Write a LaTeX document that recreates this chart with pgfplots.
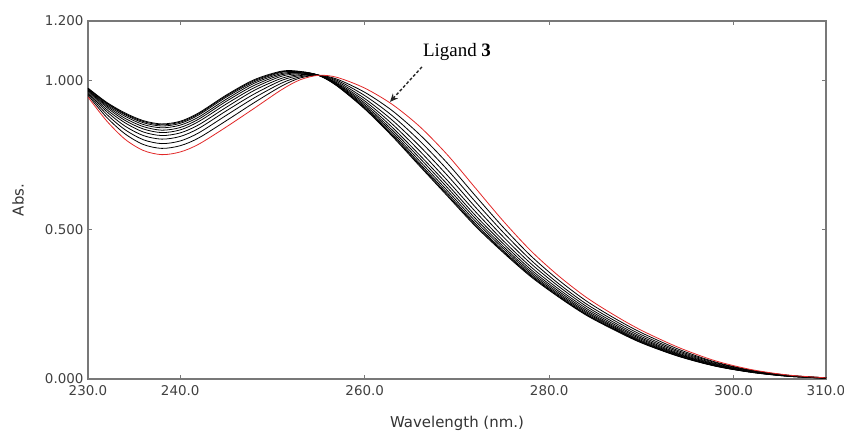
\documentclass[border=0pt]{standalone}
\usepackage{pgfplots}
\pgfplotsset{compat=1.18}
\usepackage{pgfplotstable}
\usepackage{fontspec}
\setmainfont{DejaVu Sans}
\newfontfamily\serifa{Liberation Serif}
\usetikzlibrary{arrows.meta}
\definecolor{axgray}{RGB}{120,120,120}
\definecolor{redline}{RGB}{225,40,40}

\pgfplotstableread{
x c0 c1 c2 c3 c4 c5 c6 c7 c8 c9 c10
230 0.945 0.951 0.956 0.960 0.964 0.967 0.969 0.971 0.973 0.974 0.975
232 0.866 0.878 0.888 0.897 0.904 0.911 0.916 0.920 0.924 0.926 0.928
234 0.804 0.822 0.836 0.848 0.859 0.867 0.874 0.881 0.886 0.889 0.892
236 0.766 0.786 0.802 0.816 0.828 0.838 0.846 0.853 0.859 0.863 0.866
238 0.752 0.773 0.789 0.804 0.816 0.826 0.834 0.842 0.848 0.852 0.855
240 0.761 0.782 0.798 0.813 0.825 0.835 0.843 0.851 0.857 0.861 0.864
242 0.787 0.808 0.825 0.840 0.852 0.863 0.871 0.878 0.885 0.889 0.892
245 0.845 0.866 0.884 0.899 0.911 0.922 0.931 0.938 0.945 0.949 0.952
248 0.907 0.926 0.942 0.955 0.967 0.976 0.984 0.991 0.996 1.000 1.003
251 0.970 0.982 0.992 1.001 1.008 1.015 1.020 1.024 1.028 1.030 1.032
253 1.003 1.009 1.013 1.017 1.020 1.023 1.025 1.027 1.029 1.030 1.031
255 1.018 1.018 1.018 1.018 1.018 1.018 1.018 1.018 1.018 1.018 1.018
257 1.011 1.005 1.001 0.997 0.993 0.990 0.988 0.986 0.984 0.983 0.982
260 0.975 0.961 0.950 0.940 0.932 0.925 0.919 0.914 0.910 0.907 0.905
263 0.920 0.899 0.882 0.867 0.854 0.843 0.834 0.827 0.821 0.816 0.813
266 0.845 0.818 0.797 0.779 0.763 0.749 0.739 0.729 0.721 0.716 0.712
269 0.750 0.722 0.700 0.681 0.664 0.651 0.640 0.630 0.622 0.616 0.612
272 0.640 0.614 0.594 0.576 0.561 0.548 0.538 0.529 0.521 0.516 0.512
275 0.530 0.509 0.492 0.477 0.464 0.454 0.445 0.438 0.431 0.427 0.424
278 0.430 0.413 0.399 0.387 0.376 0.367 0.360 0.354 0.349 0.346 0.343
281 0.346 0.332 0.320 0.311 0.302 0.295 0.289 0.284 0.280 0.277 0.275
284 0.274 0.262 0.252 0.244 0.237 0.231 0.226 0.222 0.218 0.216 0.214
287 0.215 0.205 0.197 0.190 0.184 0.179 0.175 0.172 0.169 0.167 0.165
290 0.163 0.155 0.148 0.142 0.137 0.133 0.129 0.126 0.124 0.122 0.121
294 0.106 0.100 0.095 0.091 0.087 0.084 0.082 0.080 0.078 0.077 0.076
298 0.061 0.057 0.055 0.052 0.050 0.048 0.047 0.045 0.044 0.044 0.043
302 0.031 0.029 0.028 0.027 0.025 0.025 0.024 0.023 0.023 0.022 0.022
306 0.013 0.012 0.012 0.011 0.011 0.010 0.010 0.010 0.009 0.009 0.009
310 0.004 0.004 0.004 0.004 0.003 0.003 0.003 0.003 0.003 0.003 0.003
}\spectra

\begin{document}
\begin{tikzpicture}
\useasboundingbox (-88bp,-55bp) rectangle (756bp,379bp);
\begin{axis}[
  at={(0,0)}, anchor=south west,
  scale only axis, width=738bp, height=358bp,
  xmin=230, xmax=310, ymin=0, ymax=1.2,
  enlargelimits=false,
  axis line style={draw=axgray, line width=1.1pt},
  tick style={draw=axgray, line width=0.9pt},
  tick align=inside,
  major tick length=4bp,
  xtick={230,240,260,280,300,310},
  xticklabels={230.0,240.0,260.0,280.0,300.0,310.0},
  ytick={0,0.5,1.0,1.2},
  yticklabels={0.000,0.500,1.000,1.200},
  tick label style={font=\fontsize{13.5}{15}\selectfont, text=black!75},
  xticklabel style={yshift=-3bp},
  yticklabel style={xshift=-1bp},
  xlabel={Wavelength (nm.)},
  ylabel={Abs.},
  label style={font=\fontsize{15}{17}\selectfont, text=black!80},
  xlabel style={at={(axis description cs:0.5,0)}, anchor=center, yshift=-44bp},
  ylabel style={at={(axis description cs:-0.0949,0.5)}, anchor=center},
  clip=true,
]
\pgfplotsinvokeforeach{10,9,...,1}{
  \addplot[black, line width=0.8pt, smooth, no markers] table[x=x, y=c#1] {\spectra};
}
\addplot[redline, line width=0.8pt, smooth, no markers] table[x=x, y=c0] {\spectra};
\node[font=\serifa\fontsize{19}{21}\selectfont] at (axis cs:270,1.096) {Ligand \textbf{3}};
\draw[black!85, line width=1.4pt, dash pattern=on 3pt off 2pt, -{Stealth[length=8bp,width=7bp]}] (axis cs:266.2,1.046) -- (axis cs:262.74,0.929);
\end{axis}
\end{tikzpicture}
\end{document}
